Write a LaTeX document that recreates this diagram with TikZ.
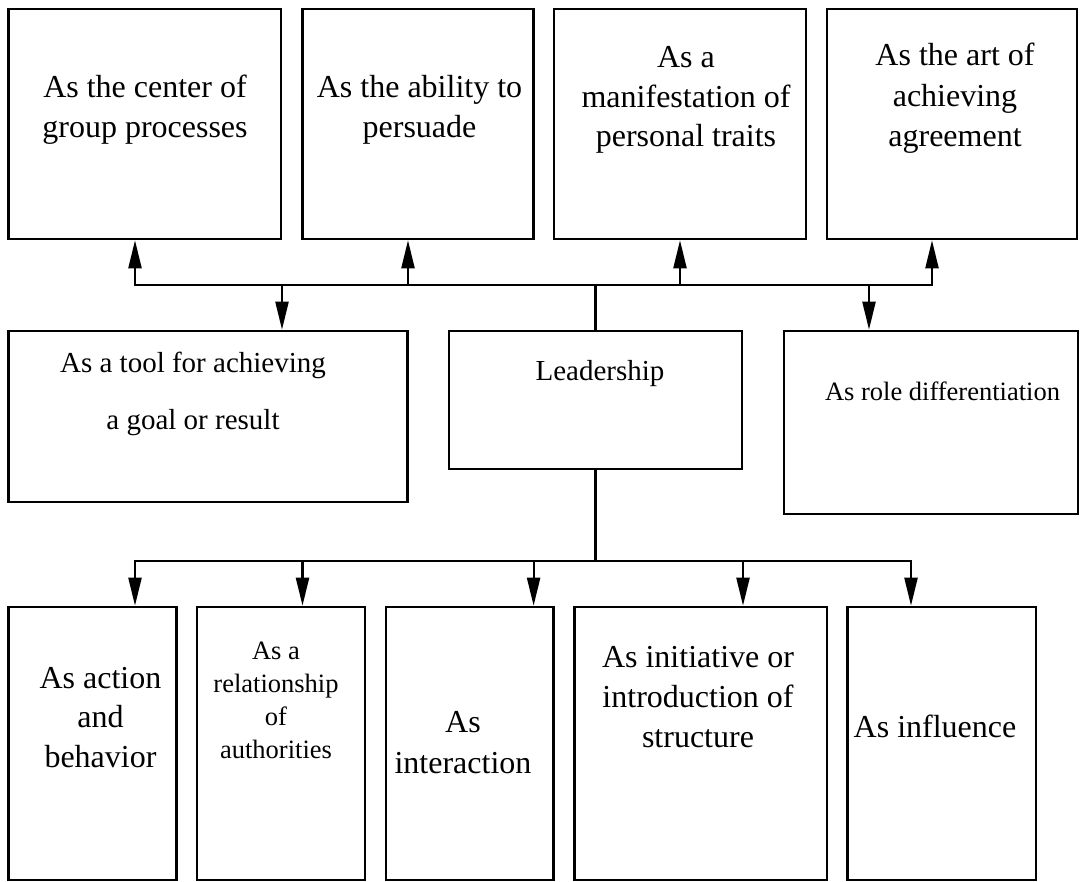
\documentclass[tikz,border=0pt]{standalone}
\usepackage{fontspec}
\setmainfont{Liberation Serif}
\usetikzlibrary{arrows.meta,fit}
% centred stack of lines whose baseline is that of the first line
\newcommand{\mlines}[1]{\begin{tabular}[t]{@{}c@{}}#1\end{tabular}}
\begin{document}
\begin{tikzpicture}[x=1pt,y=-1pt,
  box/.style={draw, line width=2.6pt, inner sep=0pt},
  lbl/.style={inner sep=0pt, anchor=base},
  fs/.style 2 args={font=\fontsize{#1}{#2}\selectfont},
  conn/.style={line width=2.2pt, line cap=rect},
  arr/.style={conn, -{Triangle[length=28pt,width=13pt]}}
]
\useasboundingbox (0,0) rectangle (1081,882);

% upper row
\node[box, fit={(8.6,9) (281,239)}]     (b1) {};
\node[box, fit={(302.5,9) (533.6,239)}] (b2) {};
\node[box, fit={(553.8,9) (806,239)}]   (b3) {};
\node[box, fit={(827,9) (1077,239)}]    (b4) {};
% middle row
\node[box, fit={(8.6,331) (407.7,502)}] (tool) {};
\node[box, fit={(449,331) (742,469)}]   (lead) {};
\node[box, fit={(784,331) (1078,514)}]  (role) {};
% lower row
\node[box, fit={(8.6,607) (176.7,880)}]   (c1) {};
\node[box, fit={(197,607) (365,880)}]     (c2) {};
\node[box, fit={(386,607) (553.6,880)}]   (c3) {};
\node[box, fit={(574.6,607) (827,880)}]   (c4) {};
\node[box, fit={(847.6,607) (1036,880)}]  (c5) {};

% labels
\node[lbl, fs={32}{40}]   (tb1) at (145,98)    {\mlines{As the center of\\group processes}};
\node[lbl, fs={32}{40}]   (tb2) at (419.5,98)  {\mlines{As the ability to\\persuade}};
\node[lbl, fs={32}{39.5}] (tb3) at (686,68)    {\mlines{As a\\manifestation of\\personal traits}};
\node[lbl, fs={32}{40.5}] (tb4) at (955,66)    {\mlines{As the art of\\achieving\\agreement}};
\node[lbl, fs={29}{57}]   (ttool) at (193,372) {\mlines{As a tool for achieving\\a goal or result}};
\node[lbl, fs={29}{35}]   (tlead) at (600,380) {Leadership};
\node[lbl, fs={26.5}{32}] (trole) at (942.5,400) {As role differentiation};
\node[lbl, fs={32}{39.5}] (tc1) at (100.5,688) {\mlines{As action\\and\\behavior}};
\node[lbl, fs={26.5}{33}] (tc2) at (276,659)   {\mlines{As a\\relationship\\of\\authorities}};
\node[lbl, fs={32}{41}]   (tc3) at (463,732)   {\mlines{As\\interaction}};
\node[lbl, fs={32}{40}]   (tc4) at (698,667)   {\mlines{As initiative or\\introduction of\\structure}};
\node[lbl, fs={32}{38}]   (tc5) at (935,737)   {As influence};

% upper bus
\coordinate (ul) at (135,285);
\coordinate (u2) at (408,285);
\coordinate (u3) at (680,285);
\coordinate (ur) at (932,285);
\coordinate (d1) at (282,285);
\coordinate (d2) at (869,285);
\draw[conn] (ul) -- (ur);
\draw[conn] (lead.north) -- (lead.north |- ul);
\draw[arr] (ul) -- (ul |- b1.south);
\draw[arr] (u2) -- (u2 |- b2.south);
\draw[arr] (u3) -- (u3 |- b3.south);
\draw[arr] (ur) -- (ur |- b4.south);
\draw[arr] (d1) -- (d1 |- tool.north);
\draw[arr] (d2) -- (d2 |- role.north);

% lower bus
\coordinate (ll) at (135,561);
\coordinate (l2) at (302.5,561);
\coordinate (l3) at (533.6,561);
\coordinate (l4) at (743,561);
\coordinate (lr) at (911,561);
\draw[conn] (ll) -- (lr);
\draw[conn] (lead.south) -- (lead.south |- ll);
\draw[arr] (ll) -- (ll |- c1.north);
\draw[arr] (l2) -- (l2 |- c2.north);
\draw[arr] (l3) -- (l3 |- c3.north);
\draw[arr] (l4) -- (l4 |- c4.north);
\draw[arr] (lr) -- (lr |- c5.north);
\end{tikzpicture}
\end{document}
